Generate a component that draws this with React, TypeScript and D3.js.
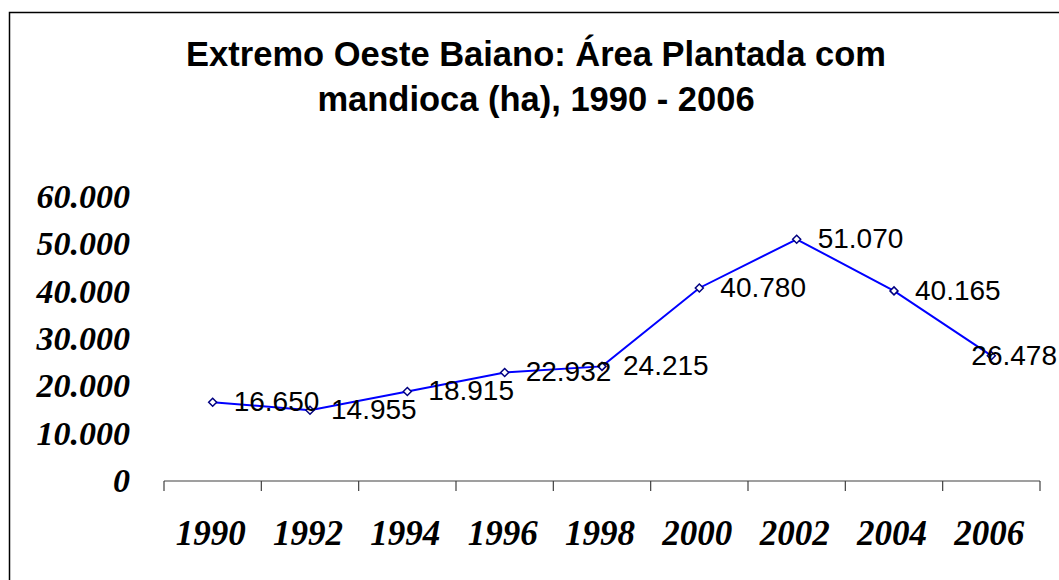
import React, { useEffect, useRef } from "react"
import * as d3 from "d3"

const years = ["1990", "1992", "1994", "1996", "1998", "2000", "2002", "2004", "2006"]
const area = [16650, 14955, 18915, 22932, 24215, 40780, 51070, 40165, 26478]
const yTicks = [0, 10000, 20000, 30000, 40000, 50000, 60000]
const titleLines = ["Extremo Oeste Baiano: Área Plantada com", "mandioca (ha), 1990 - 2006"]

const W = 1059
const H = 580

// "16.650" style, pt-BR thousands separator
const fmt = (v: number) => (v === 0 ? "0" : d3.format(",")(v).replace(/,/g, "."))

const App = () => {
	const ref = useRef<SVGSVGElement>(null)

	useEffect(() => {
		const marginLeft = 164
		const marginRight = 19
		const plotTop = 197
		const plotBottom = 481

		const svg = d3.select(ref.current)
		svg.selectAll("*").remove()

		// frame of the chart area (runs off the picture to the right and bottom)
		svg
			.append("rect")
			.attr("x", 9.5)
			.attr("y", 12.5)
			.attr("width", W)
			.attr("height", H)
			.attr("fill", "#fff")
			.attr("stroke", "#000")
			.attr("stroke-width", 1.5)

		// title
		svg
			.append("text")
			.attr("text-anchor", "middle")
			.style("font-family", "'Liberation Sans', Arial, sans-serif")
			.style("font-weight", "bold")
			.style("font-size", "34.5px")
			.selectAll("tspan")
			.data(titleLines)
			.enter()
			.append("tspan")
			.attr("x", 536)
			.attr("y", (d, i) => 66 + i * 45)
			.text(d => d)

		const x = d3
			.scaleBand()
			.domain(years)
			.range([marginLeft, W - marginRight])

		const y = d3.scaleLinear().domain([0, 60000]).range([plotBottom, plotTop])

		// x axis: line + tick marks at the band boundaries
		const g = svg.append("g").attr("stroke", "#404040").attr("stroke-width", 1.2)
		g.append("line")
			.attr("x1", marginLeft)
			.attr("x2", W - marginRight)
			.attr("y1", plotBottom)
			.attr("y2", plotBottom)
		const bounds = years.map(d => x(d)!).concat([W - marginRight])
		g.selectAll("line.tick")
			.data(bounds)
			.enter()
			.append("line")
			.attr("class", "tick")
			.attr("x1", d => d)
			.attr("x2", d => d)
			.attr("y1", plotBottom)
			.attr("y2", plotBottom + 10)

		// x labels
		svg
			.append("g")
			.selectAll("text")
			.data(years)
			.enter()
			.append("text")
			.attr("x", d => x(d)! + x.bandwidth() / 2 - 2)
			.attr("y", 545)
			.attr("text-anchor", "middle")
			.style("font-family", "'Liberation Serif', 'Times New Roman', serif")
			.style("font-weight", "bold")
			.style("font-style", "italic")
			.style("font-size", "35px")
			.text(d => d)

		// y labels (no axis line)
		svg
			.append("g")
			.selectAll("text")
			.data(yTicks)
			.enter()
			.append("text")
			.attr("x", 130)
			.attr("y", d => y(d) + 11)
			.attr("text-anchor", "end")
			.style("font-family", "'Liberation Serif', 'Times New Roman', serif")
			.style("font-weight", "bold")
			.style("font-style", "italic")
			.style("font-size", "34px")
			.text(d => fmt(d))

		const cx = (i: number) => x(years[i])! + x.bandwidth() / 2

		// series line
		svg
			.append("path")
			.datum(area)
			.attr("fill", "none")
			.attr("stroke", "#0000ff")
			.attr("stroke-width", 2)
			.attr(
				"d",
				d3
					.line<number>()
					.x((d, i) => cx(i))
					.y(d => y(d)),
			)

		// diamond markers
		svg
			.append("g")
			.selectAll("path")
			.data(area)
			.enter()
			.append("path")
			.attr("transform", (d, i) => `translate(${cx(i)}, ${y(d)})`)
			.attr("d", "M0,-4L4,0L0,4L-4,0Z")
			.attr("fill", "#fff")
			.attr("stroke", "#000080")
			.attr("stroke-width", 1.5)

		// data labels, pushed back inside when they would run off the right edge
		svg
			.append("g")
			.selectAll("text")
			.data(area)
			.enter()
			.append("text")
			.attr("x", (d, i) => cx(i) + 21)
			.attr("y", d => y(d) + 9)
			.style("font-family", "'Liberation Sans', Arial, sans-serif")
			.style("font-size", "28px")
			.style("fill", "#000")
			.text(d => fmt(d))
			.each(function () {
				const el = this as SVGTextElement
				const len = el.getComputedTextLength()
				const x0 = +el.getAttribute("x")!
				if (x0 + len > W - 2) el.setAttribute("x", String(W - 2 - len))
			})
	}, [])

	return (
		<div style={{ position: "fixed", left: 0, top: 0, width: W, height: H, overflow: "hidden", background: "#fff" }}>
			<svg ref={ref} width={W} height={H}></svg>
		</div>
	)
}

export default App
